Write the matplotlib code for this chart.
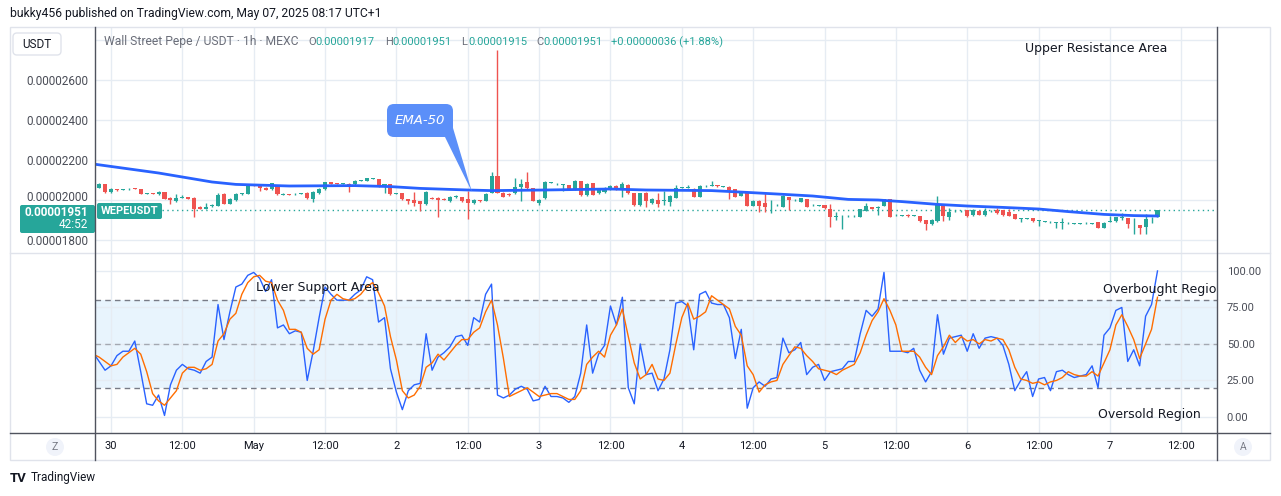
import numpy as np
import matplotlib
matplotlib.use("Agg")
import matplotlib.pyplot as plt
from matplotlib.patches import FancyBboxPatch, Polygon, Circle, Rectangle

plt.rcParams["font.family"] = ["Roboto", "DejaVu Sans"]

# 1h candles, hours counted from Apr 30 00:00
hours = np.arange(-3, 177)

# prices in units of 0.00000001
opens = [2105, 2062, 2078, 2038, 2052, 2050, 2053, 2058, 2055, 2031,
         2033, 2030, 2040, 2012, 1995, 2012, 2015, 2012, 1967, 1957,
         1970, 1972, 2032, 1982, 2000, 2030, 2032, 2075, 2075, 2062,
         2053, 2075, 2028, 2030, 2028, 2032, 2037, 2005, 2035, 2055,
         2088, 2082, 2081, 2080, 2078, 2095, 2095, 2107, 2105, 2075,
         2078, 2030, 2035, 2003, 2000, 1995, 1978, 2010, 2012, 2005,
         1995, 2015, 2013, 2007, 1985, 2000, 1997, 2037, 2120, 2037,
         2030, 2033, 2065, 2090, 2058, 1985, 2008, 2088, 2080, 2077,
         2075, 2055, 2095, 2025, 2085, 2033, 2040, 2055, 2072, 2053,
         2077, 2033, 1975, 2037, 1983, 2000, 1997, 1992, 2012, 2063,
         2062, 2057, 2017, 2070, 2072, 2073, 2067, 2067, 2055, 2022,
         2033, 1972, 1997, 1987, 1975, 1975, 1967, 2013, 2000, 1992,
         2005, 1975, 1972, 1975, 1955, 1917, 1920, 1920, 1920, 1917,
         1947, 1965, 1958, 1972, 2003, 1925, 1923, 1927, 1923, 1920,
         1900, 1880, 1895, 1975, 1917, 1945, 1945, 1950, 1925, 1947,
         1925, 1945, 1950, 1950, 1942, 1930, 1908, 1908, 1910, 1897,
         1892, 1890, 1888, 1888, 1885, 1882, 1882, 1885, 1883, 1890,
         1862, 1892, 1895, 1913, 1910, 1880, 1875, 1867, 1910, 1917]
closes = [2065, 2080, 2042, 2055, 2050, 2053, 2057, 2057, 2032, 2033,
          2032, 2040, 2007, 2002, 2010, 2015, 2007, 1957, 1957, 1967,
          1975, 2025, 1982, 2007, 2030, 2032, 2073, 2070, 2062, 2052,
          2083, 2028, 2030, 2028, 2032, 2032, 2008, 2040, 2055, 2088,
          2080, 2081, 2082, 2078, 2095, 2098, 2108, 2107, 2067, 2077,
          2028, 2032, 2003, 1995, 1983, 1978, 2040, 2008, 2000, 2004,
          2015, 2018, 1995, 1985, 2000, 1993, 2032, 2120, 2037, 2017,
          2025, 2067, 2080, 2058, 1997, 2000, 2090, 2088, 2080, 2077,
          2055, 2095, 2025, 2080, 2027, 2050, 2060, 2072, 2052, 2080,
          2033, 1975, 2033, 1997, 2005, 1980, 1997, 2020, 2062, 2063,
          2062, 2017, 2070, 2070, 2072, 2068, 2067, 2050, 2017, 2042,
          1972, 1997, 1972, 1967, 1975, 1975, 2022, 2000, 2000, 2008,
          1967, 1975, 1972, 1958, 1917, 1917, 1920, 1920, 1920, 1953,
          1972, 1957, 1965, 2003, 1917, 1925, 1923, 1918, 1923, 1895,
          1880, 1900, 1975, 1920, 1942, 1945, 1945, 1920, 1950, 1927,
          1945, 1945, 1933, 1925, 1922, 1907, 1908, 1908, 1895, 1897,
          1892, 1890, 1888, 1888, 1885, 1882, 1882, 1885, 1883, 1862,
          1887, 1892, 1913, 1913, 1880, 1880, 1862, 1903, 1910, 1951]
highs = [2110, 2085, 2080, 2058, 2056, 2057, 2060, 2062, 2057, 2036,
         2035, 2043, 2042, 2014, 2030, 2025, 2017, 2014, 1970, 1985,
         1978, 2033, 2035, 2010, 2033, 2037, 2076, 2078, 2077, 2064,
         2086, 2077, 2033, 2032, 2035, 2035, 2039, 2043, 2058, 2092,
         2090, 2084, 2085, 2083, 2098, 2101, 2111, 2110, 2107, 2079,
         2080, 2035, 2037, 2005, 2040, 1997, 2043, 2013, 2015, 2008,
         2018, 2023, 2016, 2045, 2003, 2002, 2035, 2142, 2750, 2040,
         2033, 2108, 2105, 2138, 2060, 2003, 2093, 2092, 2083, 2080,
         2077, 2098, 2097, 2083, 2087, 2053, 2063, 2075, 2074, 2090,
         2079, 2035, 2036, 2039, 2008, 2033, 2045, 2023, 2075, 2066,
         2075, 2059, 2073, 2073, 2093, 2075, 2070, 2069, 2057, 2045,
         2035, 2000, 1999, 2040, 2000, 1978, 2025, 2015, 2003, 2011,
         2007, 1978, 1975, 1977, 1978, 1942, 1923, 1923, 1923, 1956,
         1987, 1967, 1972, 2006, 2005, 1928, 1926, 1929, 1926, 1922,
         1902, 1903, 2022, 1977, 1958, 1948, 1948, 1952, 1953, 1949,
         1960, 1948, 1960, 1952, 1957, 1932, 1911, 1911, 1912, 1900,
         1895, 1893, 1891, 1910, 1888, 1885, 1885, 1888, 1886, 1892,
         1890, 1920, 1916, 1933, 1912, 1908, 1877, 1928, 1917, 1951]
lows = [2060, 2058, 2035, 2035, 2046, 2048, 2050, 2054, 2030, 2028,
        2029, 2027, 2005, 1980, 1990, 2008, 2005, 1917, 1955, 1955,
        1967, 1970, 1980, 1980, 1997, 2027, 2030, 2068, 2045, 2050,
        2050, 2025, 2025, 2025, 2026, 2029, 2005, 1990, 2032, 2052,
        2078, 2079, 2079, 2040, 2075, 2093, 2093, 2104, 2065, 2033,
        2025, 2028, 2000, 1980, 1970, 1945, 1975, 2005, 1917, 2001,
        1992, 2012, 1990, 1907, 1982, 1990, 1995, 2035, 2035, 2015,
        2022, 2030, 1995, 2055, 1995, 1975, 2005, 2085, 2077, 2045,
        2052, 2052, 2022, 2022, 2024, 2030, 2037, 2052, 2050, 2015,
        2030, 1972, 1970, 1967, 1980, 1967, 1975, 1972, 2009, 2060,
        2059, 2014, 2014, 2067, 2069, 2066, 2064, 2005, 2014, 2019,
        1969, 1969, 1942, 1942, 1933, 1972, 1964, 1950, 1997, 1989,
        1964, 1972, 1969, 1955, 1867, 1900, 1855, 1917, 1917, 1914,
        1944, 1955, 1925, 1969, 1914, 1922, 1920, 1915, 1920, 1892,
        1850, 1877, 1892, 1895, 1900, 1942, 1942, 1917, 1922, 1924,
        1922, 1942, 1930, 1922, 1919, 1904, 1892, 1905, 1892, 1872,
        1889, 1887, 1862, 1855, 1882, 1879, 1879, 1882, 1880, 1859,
        1859, 1889, 1892, 1900, 1862, 1830, 1830, 1830, 1887, 1915]

# EMA-50
ema_hours = [-3, 8, 17, 21, 30, 41, 47, 52, 60, 64, 73, 84, 90, 101, 107, 112,
             118, 124, 129, 133, 139, 144, 150, 156, 161, 167, 172, 176]
ema_vals = [2180, 2135, 2090, 2078, 2070, 2072, 2067, 2058, 2050, 2047, 2050,
            2055, 2050, 2047, 2038, 2030, 2020, 2003, 2000, 1992, 1978, 1970,
            1963, 1955, 1942, 1928, 1922, 1920]

# stochastic %K (blue) and %D (orange)
stoch_k = [44, 38, 32, 35, 42, 45, 45, 52, 31, 9,
           8, 15, 1, 22, 32, 36, 33, 32, 30, 38,
           41, 77, 53, 72, 89, 91, 97, 99, 95, 86,
           94, 61, 63, 57, 59, 58, 25, 45, 68, 89,
           84, 80, 80, 80, 84, 87, 96, 94, 65, 68,
           33, 17, 5, 18, 22, 23, 57, 32, 41, 44,
           48, 55, 56, 49, 68, 65, 84, 91, 15, 13,
           15, 19, 21, 19, 11, 12, 21, 14, 14, 13,
           10, 14, 30, 63, 30, 43, 49, 76, 63, 82,
           20, 9, 50, 29, 30, 18, 26, 46, 78, 79,
           76, 46, 84, 86, 78, 77, 77, 68, 40, 60,
           6, 20, 24, 21, 26, 27, 54, 44, 46, 51,
           29, 34, 36, 25, 31, 32, 33, 38, 38, 57,
           73, 69, 74, 99, 45, 45, 45, 44, 47, 32,
           24, 31, 70, 43, 54, 55, 56, 45, 57, 47,
           54, 55, 54, 49, 36, 18, 25, 31, 14, 26,
           27, 18, 31, 32, 29, 27, 28, 29, 35, 20,
           56, 61, 73, 75, 38, 46, 35, 69, 77, 100]
stoch_d = [43, 41, 38, 35, 36, 41, 44, 47, 43, 31,
           16, 11, 8, 13, 18, 30, 34, 34, 32, 33,
           36, 52, 57, 67, 71, 84, 92, 96, 97, 93,
           92, 80, 73, 60, 60, 58, 47, 43, 46, 67,
           80, 84, 81, 80, 81, 84, 89, 92, 85, 76,
           55, 39, 18, 13, 15, 21, 34, 37, 43, 39,
           44, 49, 53, 53, 58, 61, 72, 80, 63, 40,
           14, 16, 18, 20, 17, 14, 15, 16, 16, 14,
           12, 12, 18, 36, 41, 45, 41, 56, 63, 74,
           55, 37, 26, 29, 36, 26, 25, 30, 50, 68,
           78, 67, 69, 72, 83, 80, 77, 74, 62, 56,
           35, 29, 17, 22, 24, 25, 36, 42, 48, 47,
           42, 38, 33, 32, 31, 29, 32, 34, 36, 44,
           56, 66, 72, 81, 73, 63, 45, 45, 45, 41,
           34, 29, 42, 48, 56, 51, 55, 52, 53, 50,
           53, 52, 54, 53, 46, 34, 26, 25, 23, 24,
           22, 24, 25, 27, 31, 29, 28, 28, 31, 28,
           37, 46, 63, 70, 62, 53, 40, 50, 60, 82]

price_ticks = [1800, 2000, 2200, 2400, 2600, 2800]
time_ticks = list(range(0, 181, 12))
time_labels = ["30", "12:00", "May", "12:00", "2", "12:00", "3", "12:00", "4",
               "12:00", "5", "12:00", "6", "12:00", "7", "12:00"]
last_price = 1951
SCALE = 1e-8

UP, DOWN = "#26a69a", "#ef5350"
GRID = "#e6ecf3"
TXT = "#131722"
AXTXT = "#4a4d57"

W, H = 1281, 496
fig = plt.figure(figsize=(W / 100, H / 100), dpi=100)
fig.patch.set_facecolor("white")

ax_p = fig.add_axes([95 / W, 1 - 253 / H, (1217 - 95) / W, (253 - 28) / H])
ax_s = fig.add_axes([95 / W, 1 - 433 / H, (1217 - 95) / W, (433 - 253) / H])
xlim = ((95 - 111) / 5.946, (1217 - 111) / 5.946)

# candles
o = np.array(opens) * SCALE
c = np.array(closes) * SCALE
hi = np.array(highs) * SCALE
lo = np.array(lows) * SCALE
cols = np.where(c >= o, UP, DOWN)
ax_p.vlines(hours, lo, hi, colors=cols, lw=1, zorder=3)
diff = np.abs(c - o)
body = np.maximum(diff, 4 * SCALE)
ax_p.bar(hours, body, bottom=np.minimum(o, c) - (body - diff) / 2, width=0.68,
         color=cols, zorder=4)
ax_p.plot(ema_hours, np.array(ema_vals) * SCALE, color="#2962ff", lw=2, zorder=5)
ax_p.axhline(last_price * SCALE, xmin=(162 - 95) / 1122, color=UP, lw=1,
             ls=(0, (1, 2.5)), zorder=2)

ax_p.set_xlim(*xlim)
ax_p.set_ylim(1735 * SCALE, 2860 * SCALE)
# 2800 has no label, 2000 is drawn by hand above the last-price box
ax_p.set_yticks(np.array(price_ticks) * SCALE,
                ["%.8f" % (v * SCALE) if v not in (2000, 2800) else "" for v in price_ticks])
ax_p.set_xticks(time_ticks)
ax_p.tick_params(axis="x", length=0, labelbottom=False)
ax_p.tick_params(axis="y", length=0, pad=5, labelsize=8.5, labelcolor=AXTXT)
ax_p.grid(color=GRID, lw=1, zorder=0)
ax_p.text(153.7, 2760 * SCALE, "Upper Resistance Area", family="DejaVu Sans",
          fontsize=9, color=TXT, va="center")

# stochastic panel
ax_s.axhspan(20, 80, color="#2196f3", alpha=0.1, lw=0, zorder=1)
for lv, a in [(80, 1), (50, 0.6), (20, 1)]:
    ax_s.axhline(lv, color="#787b86", lw=1, ls=(0, (4, 3)), alpha=a, zorder=2)
ax_s.plot(hours, stoch_k, color="#2962ff", lw=1, zorder=4)
ax_s.plot(hours, stoch_d, color="#ff6d00", lw=1, zorder=5)
ax_s.set_xlim(*xlim)
ax_s.set_ylim(-11, 112.3)
ax_s.yaxis.tick_right()
ax_s.set_yticks([0, 25, 50, 75, 100], ["0.00", "25.00", "50.00", "75.00", "100.00"])
ax_s.set_xticks(time_ticks, time_labels)
ax_s.tick_params(axis="x", length=0, pad=6, labelsize=8, labelcolor=TXT)
ax_s.tick_params(axis="y", length=0, pad=7, labelsize=8, labelcolor=AXTXT)
ax_s.grid(color=GRID, lw=1, zorder=0)
ax_s.text(24.4, 89, "Lower Support Area", family="DejaVu Sans", fontsize=9,
          color=TXT, va="center", zorder=6)
ax_s.text(166.8, 87, "Overbought Region", family="DejaVu Sans", fontsize=9,
          color=TXT, va="center", clip_on=True, zorder=6)
ax_s.text(166, 1.5, "Oversold Region", family="DejaVu Sans", fontsize=9,
          color=TXT, va="center", zorder=6)

for a in (ax_p, ax_s):
    for s in a.spines.values():
        s.set_visible(False)

# pixel overlay for the frame, labels and callout
ov = fig.add_axes([0, 0, 1, 1], zorder=10)
ov.set_xlim(0, W)
ov.set_ylim(H, 0)
ov.axis("off")

ov.add_patch(Rectangle((10, 27), 1260, 433, fill=False, ec="#e0e3eb", lw=1))
ov.plot([10, 1270], [253, 253], color="#e0e3eb", lw=1)
ov.plot([10, 1270], [433, 433], color="#50535e", lw=1)
ov.plot([95, 95], [27, 460], color="#50535e", lw=1)
ov.plot([1217, 1217], [27, 460], color="#50535e", lw=1)

ov.text(10, 13, "bukky456 published on TradingView.com, May 07, 2025 08:17 UTC+1",
        fontsize=8.75, color=TXT, va="center")

# legend row
ov.add_patch(FancyBboxPatch((13, 33), 48, 22, boxstyle="round,pad=0,rounding_size=4",
                            fc="white", ec="#e0e3eb", lw=1))
ov.text(37, 44, "USDT", fontsize=8.5, color=TXT, ha="center", va="center")
ov.text(104, 42, "Wall Street Pepe / USDT \u00b7 1h \u00b7 MEXC", fontsize=8.7,
        color="#6a6d78", va="center")
for x, s, col in [(308, "O", "#6a6d78"), (315, "0.00001917", UP),
                  (385, "H", "#6a6d78"), (392, "0.00001951", UP),
                  (461, "L", "#6a6d78"), (468, "0.00001915", UP),
                  (536, "C", "#6a6d78"), (543, "0.00001951", UP),
                  (611, "+0.00000036 (+1.88%)", UP)]:
    ov.text(x, 42, s, fontsize=8, color=col, va="center")

# price label hidden partly by the last-price box
ov.text(88, 197.5, "0.00002000", fontsize=8.5, color=AXTXT, ha="right", va="center")

# last price labels
ov.add_patch(FancyBboxPatch((21, 206), 73, 26, boxstyle="round,pad=1,rounding_size=2",
                            fc=UP, ec="none"))
ov.text(88, 212.5, "0.00001951", fontsize=8.5, color="white", weight="bold",
        ha="right", va="center")
ov.text(88, 225, "42:52", fontsize=8.5, color="white", ha="right", va="center")
ov.add_patch(FancyBboxPatch((98, 204), 63, 14, boxstyle="round,pad=1,rounding_size=2",
                            fc=UP, ec="none"))
ov.text(129.5, 211, "WEPEUSDT", fontsize=8, color="white", weight="bold",
        ha="center", va="center")

# EMA-50 callout
ov.add_patch(Polygon([(444, 135), (453, 128), (472, 192)], closed=True,
                     fc="#5b8ff9", ec="none"))
ov.add_patch(FancyBboxPatch((389, 106), 62, 29, boxstyle="round,pad=2,rounding_size=7",
                            fc="#5b8ff9", ec="none"))
ov.text(420, 121, "EMA-50", family="DejaVu Sans", style="italic", fontsize=9.5,
        color="white", ha="center", va="center")

# axis corner buttons
for x, s in [(55, "Z"), (1243, "A")]:
    ov.add_patch(Circle((x, 447), 9, fc="#f0f3fa", ec="none"))
    ov.text(x, 447, s, fontsize=7.5, color="#787b86", ha="center", va="center")

ov.text(10, 478, "TV", fontsize=9.5, weight="bold", color=TXT, va="center")
ov.text(31, 478, "TradingView", fontsize=8.5, color=TXT, va="center")

fig.savefig("out.png", dpi=100)
